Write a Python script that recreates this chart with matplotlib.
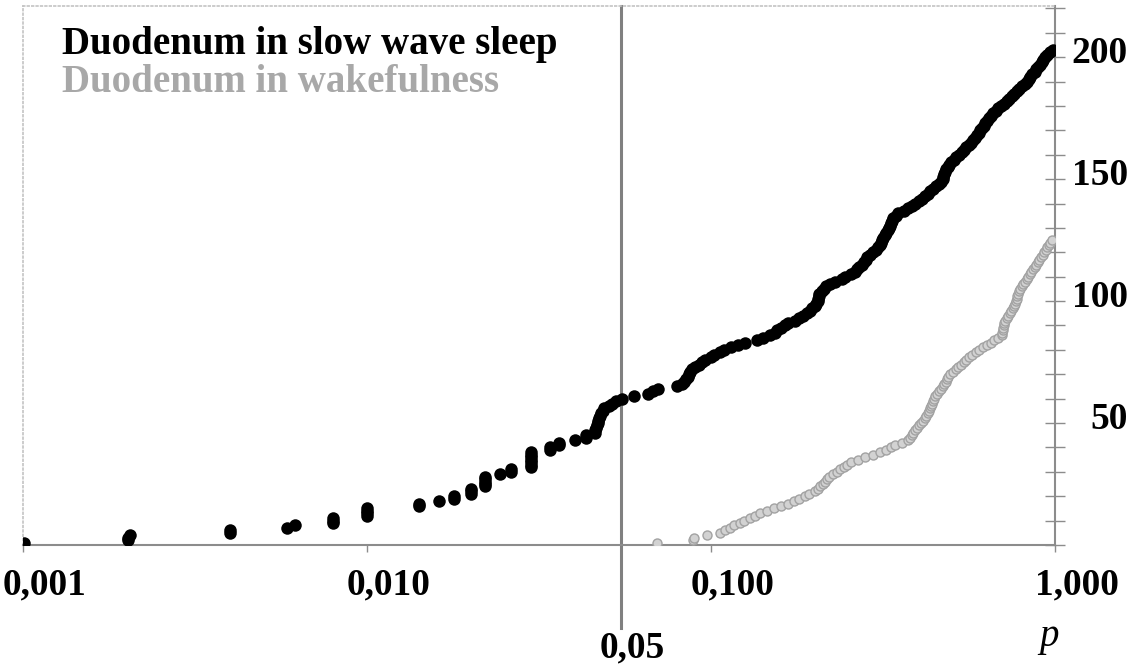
import matplotlib
matplotlib.use("Agg")
from matplotlib import pyplot as plt
from matplotlib import transforms
from matplotlib.ticker import MultipleLocator, NullLocator, FixedLocator
import numpy as np

# p-values sorted, one per rank (cumulative count on the y axis)
sleep_p = [0.00101,
           0.00202, 0.00202, 0.00205,
           0.0040, 0.0040,
           0.00585, 0.00618,
           0.00796, 0.00796, 0.00796,
           0.0100, 0.0100, 0.0100, 0.0100,
           0.0142, 0.0142,
           0.0162,
           0.0179, 0.0179,
           0.0200, 0.0200, 0.0200,
           0.0220, 0.0220, 0.0220, 0.0220, 0.0220,
           0.0244,
           0.0263, 0.0263,
           0.0299, 0.0299, 0.0299, 0.0299, 0.0299, 0.0299, 0.0299,
           0.0340, 0.0340,
           0.0361, 0.0361,
           0.0403,
           0.0433, 0.0433,
           0.0460, 0.0461, 0.0463, 0.0465, 0.0468, 0.0470, 0.0473, 0.0477, 0.0480, 0.0484, 0.0489,
           0.0505, 0.0514, 0.0530, 0.0553, 0.0596, 0.0656, 0.0680, 0.0699,
           0.0796, 0.0823,
           0.0835, 0.0845, 0.0855, 0.0862, 0.0869,
           0.0880, 0.0898,
           0.0920, 0.0940, 0.0961,
           0.1000, 0.1020,
           0.1060, 0.1090,
           0.1140, 0.1200,
           0.1256, 0.1360,
           0.1420, 0.1484,
           0.1530, 0.1560, 0.1598, 0.1640,
           0.1674, 0.1760,
           0.1800, 0.1850,
           0.1900, 0.1940,
           0.1970, 0.2000, 0.2020, 0.2041,
           0.2050, 0.2055, 0.2060,
           0.2100, 0.2130, 0.2160,
           0.2218, 0.2300,
           0.2400, 0.2452,
           0.2553, 0.2620,
           0.2660, 0.2700, 0.2748,
           0.2790, 0.2820, 0.2841,
           0.2900, 0.2958,
           0.3010, 0.3068,
           0.3100, 0.3120, 0.3141,
           0.3170, 0.3200, 0.3227,
           0.3260, 0.3290, 0.3314,
           0.3340, 0.3360, 0.3381,
           0.3440, 0.3497,
           0.3639, 0.3740, 0.3839,
           0.3930, 0.4024,
           0.4100, 0.4188,
           0.4260, 0.4331,
           0.4420, 0.4508,
           0.4590, 0.4677, 0.4710,
           0.4740, 0.4770, 0.4786,
           0.4830, 0.4870, 0.4919,
           0.5000, 0.5080, 0.5157,
           0.5250, 0.5350, 0.5440,
           0.5530, 0.5620, 0.5700,
           0.5780, 0.5850, 0.5920, 0.5993,
           0.6060, 0.6130, 0.6200, 0.6259,
           0.6350, 0.6440, 0.6520, 0.6604,
           0.6730, 0.6850, 0.6980, 0.7107,
           0.7240, 0.7370, 0.7499,
           0.7620, 0.7740, 0.7856,
           0.8020, 0.8180,
           0.8300, 0.8400, 0.8458,
           0.8600, 0.8720, 0.8807,
           0.8920, 0.9030, 0.9137,
           0.9250, 0.9360, 0.9478,
           0.9660, 0.9840]

wake_p = [0.0697,
          0.0887, 0.0890,
          0.0973,
          0.1062,
          0.1100, 0.1135,
          0.1170, 0.1213,
          0.1250, 0.1297,
          0.1340, 0.1387,
          0.1450, 0.1520, 0.1597,
          0.1670, 0.1740, 0.1802,
          0.1870, 0.1930, 0.2000, 0.2048,
          0.2080, 0.2110, 0.2140, 0.2170, 0.2205,
          0.2260, 0.2320, 0.2373,
          0.2430, 0.2490, 0.2553,
          0.2680, 0.2805,
          0.2950, 0.3100,
          0.3220, 0.3330, 0.3426,
          0.3600, 0.3740,
          0.3790, 0.3830, 0.3865,
          0.3920, 0.3970, 0.4020, 0.4077,
          0.4130, 0.4180, 0.4230, 0.4274,
          0.4310, 0.4340, 0.4370, 0.4400, 0.4430, 0.4450, 0.4477,
          0.4540, 0.4600, 0.4660, 0.4721,
          0.4770, 0.4820, 0.4860, 0.4900, 0.4951,
          0.5040, 0.5140, 0.5240, 0.5333,
          0.5430, 0.5530, 0.5630, 0.5741,
          0.5880, 0.6030, 0.6190, 0.6344,
          0.6500, 0.6660, 0.6830, 0.7010,
          0.7030, 0.7060, 0.7080, 0.7100, 0.7130, 0.7156,
          0.7230, 0.7310, 0.7390, 0.7470, 0.7551,
          0.7600, 0.7640, 0.7690, 0.7730, 0.7780, 0.7820, 0.7870, 0.7916,
          0.8000, 0.8090, 0.8180, 0.8270, 0.8360, 0.8450, 0.8540, 0.8630,
          0.8720, 0.8810, 0.8900, 0.9000, 0.9110, 0.9226,
          0.9320, 0.9420, 0.9510, 0.9600, 0.9700, 0.9796]

x_ticks = [0.001, 0.01, 0.1, 1.0]
x_labels = ["0,001", "0,010", "0,100", "1,000"]
y_ticks = [50, 100, 150, 200]
cut_p = 0.0547   # drawn position of the 0,05 line

sleep_n = np.arange(1, len(sleep_p) + 1)
wake_n = np.arange(1, len(wake_p) + 1)

plt.rcParams['font.family'] = ['Liberation Serif', 'DejaVu Serif']

W, H = 1137, 665
fig = plt.figure(figsize=(W / 100, H / 100), dpi=100)
ax = fig.add_axes([23 / W, 1 - 545 / H, (1055 - 23) / W, (545 - 6) / H])

ax.scatter(wake_p, wake_n, s=6.5 ** 2, c='#d2d2d2', edgecolors='#a2a2a2',
           linewidths=1.0, zorder=3)
ax.scatter(sleep_p, sleep_n, s=9 ** 2, c='black', linewidths=0, zorder=4)

ax.set_xscale('log')
ax.set_xlim(0.001, 1.0)
ax.set_ylim(0, 221)

ax.axvline(cut_p, ymin=-83 / 539, ymax=1, color='#808080', lw=2.2,
           clip_on=False, zorder=2)

# spines
for s in ['left', 'top']:
    ax.spines[s].set_color('#c4c4c4')
    ax.spines[s].set_linestyle(':')
    ax.spines[s].set_linewidth(1.2)
for s in ['right', 'bottom']:
    ax.spines[s].set_color('#8c8c8c')
    ax.spines[s].set_linewidth(1.5)

# x axis
ax.xaxis.set_major_locator(FixedLocator(x_ticks))
ax.xaxis.set_minor_locator(NullLocator())
ax.set_xticklabels(x_labels)
ax.tick_params(axis='x', direction='out', length=5, width=1, color='#8c8c8c',
               labelsize=27, pad=11)

# y axis on the right
ax.yaxis.tick_right()
ax.yaxis.set_major_locator(FixedLocator(y_ticks))
ax.yaxis.set_minor_locator(MultipleLocator(10))
ax.tick_params(axis='y', which='both', direction='inout', length=15, width=1,
               color='#8c8c8c', left=False, right=True)
ax.tick_params(axis='y', which='major', labelsize=27, pad=45)

dx = transforms.ScaledTranslation(0.22, 0, fig.dpi_scale_trans)
for lab in ax.get_xticklabels():
    lab.set_fontweight('bold')
    lab.set_transform(lab.get_transform() + dx)
dy = transforms.ScaledTranslation(0, 0.08, fig.dpi_scale_trans)
for lab in ax.get_yticklabels():
    lab.set_fontweight('bold')
    lab.set_horizontalalignment('right')
    lab.set_transform(lab.get_transform() + dy)

ax.annotate("0,05", xy=(cut_p, 0), xycoords=('data', 'axes fraction'),
            xytext=(8, -81), textcoords='offset points', ha='center',
            va='baseline', fontsize=27, fontweight='bold')
ax.annotate("p", xy=(1.0, 0), xycoords='axes fraction',
            xytext=(-4, -73), textcoords='offset points', ha='center',
            va='baseline', fontsize=28, style='italic')

fig.text(62 / W, 1 - 54 / H, "Duodenum in slow wave sleep", fontsize=28,
         fontweight='bold', color='black', va='baseline')
fig.text(62 / W, 1 - 92 / H, "Duodenum in wakefulness", fontsize=28,
         fontweight='bold', color='#a8a8a8', va='baseline')

fig.savefig("out.png", dpi=100)
